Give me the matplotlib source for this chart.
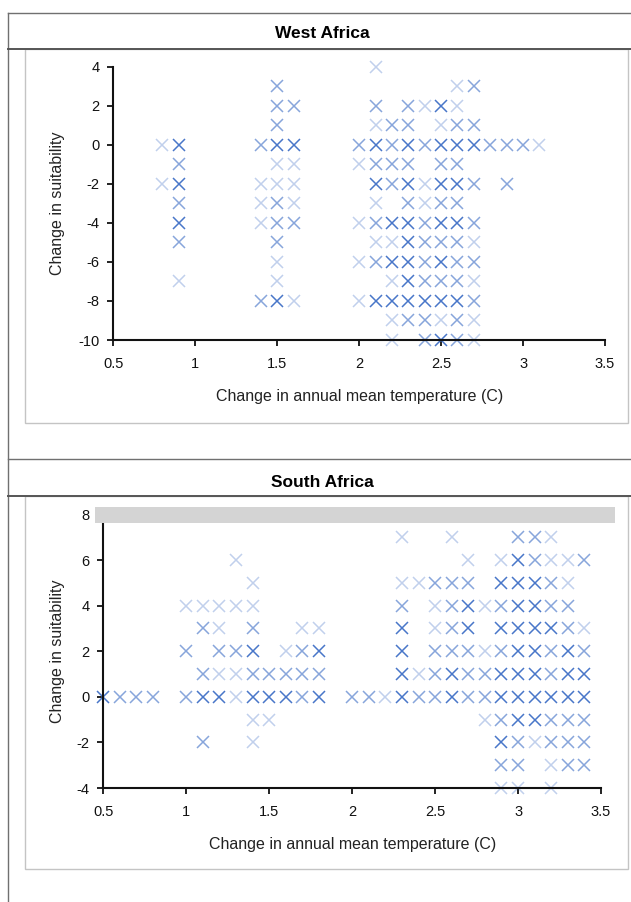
import matplotlib
matplotlib.use("Agg")
import matplotlib.pyplot as plt
from matplotlib.lines import Line2D
from matplotlib.patches import Rectangle
import matplotlib.transforms as mtransforms

plt.rcParams['font.family'] = ['Liberation Sans', 'DejaVu Sans']
plt.rcParams['axes.unicode_minus'] = False

# ---------------- data ----------------
# West Africa: each row = one suitability level, with temperature values and shade (1 light .. 3 dark)
wa_levels = [4, 3, 2, 1, 0, -1, -2, -3, -4, -5, -6, -7, -8, -9, -10]
wa_temps = [
    [2.1],
    [1.5, 2.6, 2.7],
    [1.5, 1.6, 2.1, 2.3, 2.4, 2.5, 2.6],
    [1.5, 2.1, 2.2, 2.3, 2.5, 2.6, 2.7],
    [0.8, 0.9, 1.4, 1.5, 1.6, 2.0, 2.1, 2.2, 2.3, 2.4, 2.5, 2.6, 2.7, 2.8, 2.9, 3.0, 3.1],
    [0.9, 1.5, 1.6, 2.0, 2.1, 2.2, 2.3, 2.5, 2.6],
    [0.8, 0.9, 1.4, 1.5, 1.6, 2.1, 2.2, 2.3, 2.4, 2.5, 2.6, 2.7, 2.9],
    [0.9, 1.4, 1.5, 1.6, 2.1, 2.3, 2.4, 2.5, 2.6],
    [0.9, 1.4, 1.5, 1.6, 2.0, 2.1, 2.2, 2.3, 2.4, 2.5, 2.6, 2.7],
    [0.9, 1.5, 2.1, 2.2, 2.3, 2.4, 2.5, 2.6, 2.7],
    [1.5, 2.0, 2.1, 2.2, 2.3, 2.4, 2.5, 2.6, 2.7],
    [0.9, 1.5, 2.2, 2.3, 2.4, 2.5, 2.6, 2.7],
    [1.4, 1.5, 1.6, 2.0, 2.1, 2.2, 2.3, 2.4, 2.5, 2.6, 2.7],
    [2.2, 2.3, 2.4, 2.5, 2.6, 2.7],
    [2.2, 2.4, 2.5, 2.6, 2.7],
]
wa_shades = [
    [1],
    [2, 1, 2],
    [2, 2, 2, 2, 1, 3, 1],
    [2, 1, 2, 2, 1, 2, 2],
    [1, 3, 2, 3, 3, 2, 3, 2, 3, 2, 3, 3, 3, 2, 2, 2, 1],
    [2, 1, 1, 1, 2, 2, 2, 2, 2],
    [1, 3, 1, 1, 1, 3, 2, 3, 1, 3, 3, 2, 2],
    [2, 1, 2, 1, 1, 2, 1, 2, 2],
    [3, 1, 2, 2, 1, 2, 3, 3, 2, 3, 3, 2],
    [2, 2, 1, 1, 3, 2, 2, 2, 1],
    [1, 1, 2, 3, 3, 2, 3, 2, 2],
    [1, 1, 1, 3, 2, 2, 2, 1],
    [2, 3, 1, 1, 3, 3, 3, 3, 3, 3, 2],
    [1, 2, 2, 1, 2, 1],
    [1, 2, 3, 2, 1],
]

# South Africa
sa_levels = [7, 6, 5, 4, 3, 2, 1, 0, -1, -2, -3, -4]
sa_temps = [
    [2.3, 2.6, 3.0, 3.1, 3.2],
    [1.3, 2.7, 2.9, 3.0, 3.1, 3.2, 3.3, 3.4],
    [1.4, 2.3, 2.4, 2.5, 2.6, 2.7, 2.9, 3.0, 3.1, 3.2, 3.3],
    [1.0, 1.1, 1.2, 1.3, 1.4, 2.3, 2.5, 2.6, 2.7, 2.8, 2.9, 3.0, 3.1, 3.2, 3.3],
    [1.1, 1.2, 1.4, 1.7, 1.8, 2.3, 2.5, 2.6, 2.7, 2.9, 3.0, 3.1, 3.2, 3.3, 3.4],
    [1.0, 1.2, 1.3, 1.4, 1.6, 1.7, 1.8, 2.3, 2.5, 2.6, 2.7, 2.8, 2.9, 3.0, 3.1, 3.2, 3.3, 3.4],
    [1.1, 1.2, 1.3, 1.4, 1.5, 1.6, 1.7, 1.8, 2.3, 2.4, 2.5, 2.6, 2.7, 2.8, 2.9, 3.0, 3.1, 3.2, 3.3, 3.4],
    [0.5, 0.6, 0.7, 0.8, 1.0, 1.1, 1.2, 1.3, 1.4, 1.5, 1.6, 1.7, 1.8, 2.0, 2.1, 2.2, 2.3, 2.4, 2.5,
     2.6, 2.7, 2.8, 2.9, 3.0, 3.1, 3.2, 3.3, 3.4],
    [1.4, 1.5, 2.8, 2.9, 3.0, 3.1, 3.2, 3.3, 3.4],
    [1.1, 1.4, 2.9, 3.0, 3.1, 3.2, 3.3, 3.4],
    [2.9, 3.0, 3.2, 3.3, 3.4],
    [2.9, 3.0, 3.2],
]
sa_shades = [
    [1, 1, 2, 2, 1],
    [1, 1, 1, 3, 2, 1, 1, 2],
    [1, 1, 1, 2, 2, 2, 3, 3, 3, 2, 1],
    [1, 1, 1, 1, 1, 2, 1, 2, 3, 1, 2, 3, 3, 2, 2],
    [2, 1, 2, 1, 1, 3, 1, 2, 3, 3, 3, 3, 3, 2, 1],
    [2, 2, 2, 3, 1, 2, 3, 3, 2, 2, 2, 1, 2, 3, 3, 2, 3, 2],
    [2, 1, 1, 2, 2, 2, 2, 2, 3, 1, 2, 3, 2, 2, 3, 3, 3, 2, 3, 3],
    [3, 2, 2, 2, 2, 3, 3, 1, 3, 3, 3, 2, 3, 2, 2, 1, 3, 2, 2, 3, 2, 2, 3, 3, 3, 3, 3, 3],
    [1, 1, 1, 2, 3, 3, 2, 2, 2],
    [2, 1, 3, 2, 1, 2, 2, 2],
    [2, 2, 1, 2, 2],
    [1, 1, 1],
]

x_ticks = [0.5, 1, 1.5, 2, 2.5, 3, 3.5]
wa_yticks = [4, 2, 0, -2, -4, -6, -8, -10]
sa_yticks = [8, 6, 4, 2, 0, -2, -4]
xlabel = "Change in annual mean temperature (C)"
ylabel = "Change in suitability"

# ---------------- figure ----------------
W, H = 631, 902
fig = plt.figure(figsize=(W / 100, H / 100), dpi=100)


def fx(px):
    return px / W


def fy(py):
    return 1 - py / H


def hline(y, x0, x1, color, lw):
    fig.add_artist(Line2D([fx(x0), fx(x1)], [fy(y), fy(y)], color=color, lw=lw,
                          transform=fig.transFigure))


def vline(x, y0, y1, color, lw):
    fig.add_artist(Line2D([fx(x), fx(x)], [fy(y0), fy(y1)], color=color, lw=lw,
                          transform=fig.transFigure))


# document frame lines
vline(8, 13, 902, '#707070', 1.0)
hline(13, 8, 631, '#707070', 1.0)
hline(49, 8, 631, '#555555', 1.4)
hline(459, 8, 631, '#707070', 1.0)
hline(496, 8, 631, '#555555', 1.4)
# inner chart frames
for top, bot in [(49, 423), (496, 869)]:
    fig.add_artist(Rectangle((fx(25), fy(bot)), fx(628) - fx(25), fy(top) - fy(bot),
                             transform=fig.transFigure, fill=False,
                             edgecolor='#c4c4c4', lw=1.0))

fig.text(fx(322), fy(34), "West Africa", ha='center', va='center',
         fontsize=12.5, fontweight='bold')
fig.text(fx(322), fy(482), "South Africa", ha='center', va='center',
         fontsize=12.5, fontweight='bold')

BLUE = '#3f6fc6'
ALPHA = {1: 0.32, 2: 0.62, 3: 0.95}


def draw(ax, levels, temps, shades):
    for yv, xs, ss in zip(levels, temps, shades):
        for xv, s in zip(xs, ss):
            ax.plot([xv], [yv], marker='x', ls='none', ms=8.5, mew=1.1,
                    color=BLUE, alpha=ALPHA[s], clip_on=False, zorder=2)


def style(ax, yticks, ylim, ylab_x):
    ax.set_xlim(0.5, 3.5)
    ax.set_ylim(*ylim)
    ax.set_xticks(x_ticks)
    ax.set_xticklabels([f"{t:g}" for t in x_ticks])
    ax.set_yticks(yticks)
    for s in ['top', 'right']:
        ax.spines[s].set_visible(False)
    for s in ['left', 'bottom']:
        ax.spines[s].set_linewidth(1.5)
        ax.spines[s].set_color('#111111')
        ax.spines[s].set_zorder(3)
    ax.tick_params(direction='out', length=4, width=1.3, labelsize=10.5,
                   colors='#111111', pad=6)
    ax.tick_params(axis='x', pad=8)
    ax.set_xlabel(xlabel, fontsize=11.5, color='#222222')
    ax.set_ylabel(ylabel, fontsize=11.5, color='#222222')
    ax.xaxis.set_label_coords(0.5, -0.178)
    ax.yaxis.set_label_coords(ylab_x, 0.5)
    ax.set_facecolor('none')


# top axes (West Africa)
ax1 = fig.add_axes([fx(113.3), fy(340), fx(605) - fx(113.3), fy(66.7) - fy(340)])
draw(ax1, wa_levels, wa_temps, wa_shades)
style(ax1, wa_yticks, (-10, 4), -0.098)

# bottom axes (South Africa)
ax2 = fig.add_axes([fx(103.3), fy(788), fx(601) - fx(103.3), fy(514.4) - fy(788)])
draw(ax2, sa_levels, sa_temps, sa_shades)
style(ax2, sa_yticks, (-4, 8), -0.077)
ax2.spines['left'].set_bounds(-4, 7.7)
# grey band at the top of the South Africa plot area
band_tr = mtransforms.blended_transform_factory(ax2.transAxes, ax2.transData)
ax2.add_patch(Rectangle((-0.017, 7.62), 1.045, 0.72, transform=band_tr,
                        facecolor='#d4d4d4', edgecolor='none', clip_on=False, zorder=4))

fig.savefig("out.png", dpi=100)
